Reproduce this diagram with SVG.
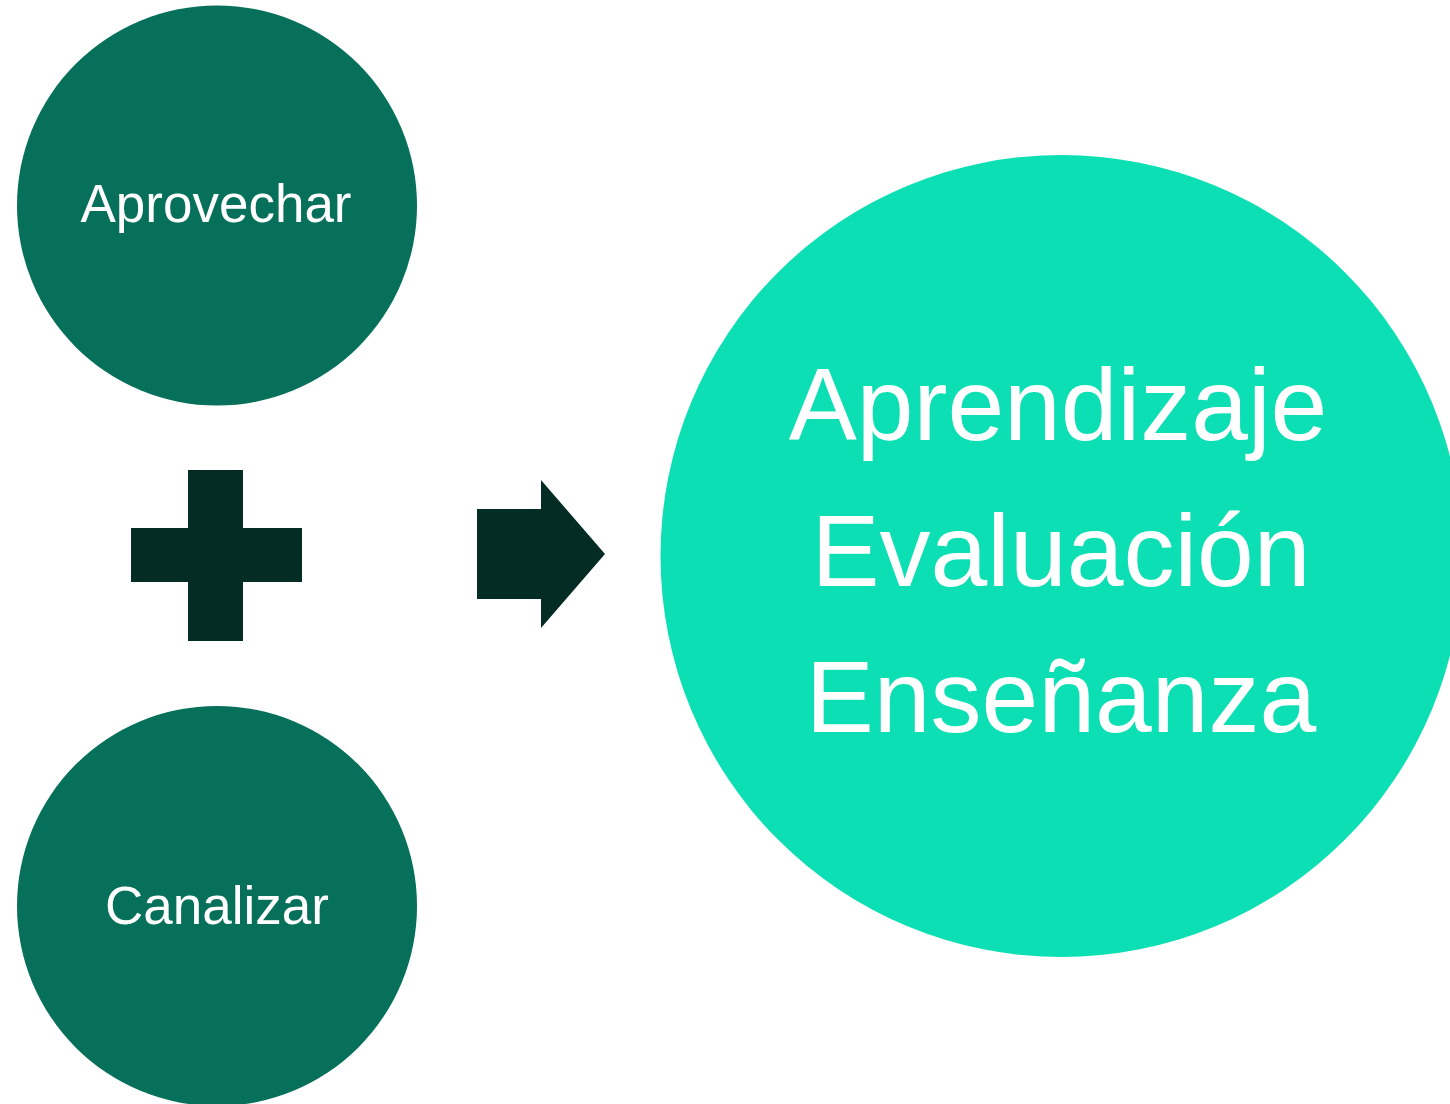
<svg xmlns="http://www.w3.org/2000/svg" width="1450" height="1104" viewBox="0 0 1450 1104">
<style>
.small{fill:#06705A}
.big{fill:#0DDFB5}
.sym{fill:#032D24}
.t{font-family:"Liberation Sans",Arial,sans-serif;fill:#FFFFFF;text-anchor:middle}
</style>
<rect width="1450" height="1104" fill="#FFFFFF"/>
<g id="node-aprovechar">
<circle class="small" cx="217" cy="205.5" r="200"/>
<text class="t" x="216" y="222" font-size="53">Aprovechar</text>
</g>
<g id="node-canalizar">
<circle class="small" cx="217" cy="906" r="200"/>
<text class="t" x="217" y="924" font-size="53">Canalizar</text>
</g>
<g id="node-resultado">
<circle class="big" cx="1061.5" cy="556" r="401"/>
<text class="t" font-size="102"><tspan x="1058" y="440">Aprendizaje</tspan><tspan x="1061" y="586">Evaluación</tspan><tspan x="1061" y="732">Enseñanza</tspan></text>
</g>
<g id="connectors">
<path class="sym" d="M188,470 H243 V528 H302 V582 H243 V641 H188 V582 H131 V528 H188 Z"/>
<path class="sym" d="M477,509 H541 V480 L605,554 L541,628 V599 H477 Z"/>
</g>
</svg>
